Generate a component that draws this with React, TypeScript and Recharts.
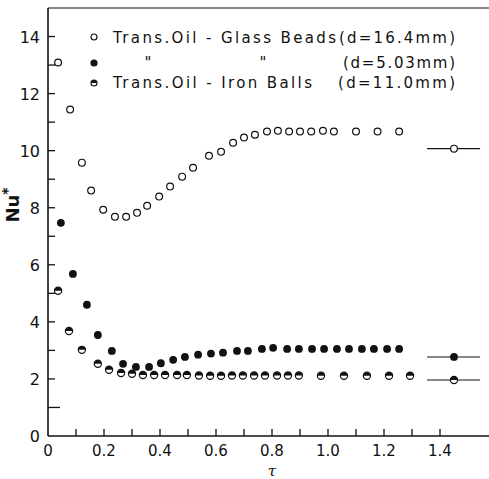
import React from 'react';
import { ScatterChart, Scatter, XAxis, YAxis, ReferenceLine, Customized } from 'recharts';

const glassX = [0.036, 0.079, 0.121, 0.154, 0.197, 0.239, 0.279, 0.318, 0.354, 0.397, 0.436, 0.479, 0.518, 0.575, 0.618, 0.661, 0.700, 0.739, 0.782, 0.821, 0.861, 0.900, 0.940, 0.982, 1.021, 1.100, 1.177, 1.254];
const glassY = [13.09, 11.44, 9.58, 8.60, 7.93, 7.68, 7.68, 7.82, 8.07, 8.39, 8.74, 9.09, 9.40, 9.82, 9.96, 10.28, 10.46, 10.56, 10.67, 10.70, 10.67, 10.67, 10.67, 10.70, 10.67, 10.67, 10.67, 10.67];

const beadX = [0.046, 0.089, 0.139, 0.178, 0.228, 0.268, 0.314, 0.361, 0.403, 0.447, 0.489, 0.536, 0.582, 0.625, 0.675, 0.714, 0.764, 0.804, 0.854, 0.896, 0.943, 0.986, 1.032, 1.075, 1.121, 1.164, 1.211, 1.254];
const beadY = [7.47, 5.68, 4.60, 3.54, 2.98, 2.53, 2.42, 2.42, 2.55, 2.67, 2.77, 2.85, 2.89, 2.92, 2.98, 2.98, 3.05, 3.09, 3.05, 3.05, 3.05, 3.05, 3.05, 3.05, 3.05, 3.05, 3.05, 3.05];

const ironX = [0.036, 0.075, 0.121, 0.178, 0.218, 0.261, 0.300, 0.339, 0.379, 0.418, 0.461, 0.496, 0.539, 0.579, 0.618, 0.657, 0.696, 0.736, 0.775, 0.818, 0.857, 0.896, 0.975, 1.057, 1.139, 1.218, 1.293];
const ironY = [5.09, 3.68, 3.02, 2.53, 2.32, 2.21, 2.18, 2.14, 2.14, 2.14, 2.14, 2.14, 2.12, 2.11, 2.11, 2.12, 2.12, 2.12, 2.12, 2.12, 2.12, 2.12, 2.11, 2.11, 2.11, 2.11, 2.11];

// asymptotic (steady) values shown at the right
const asymX = 1.45;
const asymSpan = [1.354, 1.543];
const asymGlass = 10.07;
const asymBead = 2.77;
const asymIron = 1.96;

const xTicks = [0, 1, 2, 3, 4, 5, 6, 7, 8, 9, 10, 11, 12, 13, 14].map((i) => i / 10);
const xLabels = ['0', '0.2', '0.4', '0.6', '0.8', '1.0', '1.2', '1.4'];
const yTicks = [0, 1, 2, 3, 4, 5, 6, 7, 8, 9, 10, 11, 12, 13, 14];

const zip = (xs: number[], ys: number[]) => xs.map((x, i) => ({ x, y: ys[i] }));
const glassData = zip(glassX, glassY);
const beadData = zip(beadX, beadY);
const ironData = zip(ironX, ironY);

const FONT = '"DejaVu Sans", sans-serif';
const INK = '#111';

const OpenMark = (p: any) => (
  <circle cx={p.cx} cy={p.cy} r={3.4} fill="#fff" stroke={INK} strokeWidth={1.2} />
);
const FilledMark = (p: any) => <circle cx={p.cx} cy={p.cy} r={3.9} fill={INK} />;
const HalfMark = (p: any) => {
  const r = 3.6;
  const { cx, cy } = p;
  return (
    <g>
      <circle cx={cx} cy={cy} r={r} fill="#fff" stroke={INK} strokeWidth={1.2} />
      <path d={`M ${cx - r} ${cy} A ${r} ${r} 0 0 1 ${cx + r} ${cy} Z`} fill={INK} />
    </g>
  );
};

const XTick = (p: any) => {
  const v = p.payload.value;
  const i = Math.round(v * 10);
  return (
    <g>
      {i > 0 && <line x1={p.x} x2={p.x} y1={p.y} y2={p.y - 7} stroke={INK} strokeWidth={1.3} />}
      {i % 2 === 0 && (
        <text x={p.x} y={p.y + 20} textAnchor="middle" fontFamily={FONT} fontSize={15} fill={INK}>
          {xLabels[i / 2]}
        </text>
      )}
    </g>
  );
};

const YTick = (p: any) => {
  const v = p.payload.value;
  return (
    <g>
      {v > 0 && <line x1={p.x} x2={p.x + (v === 1 ? 12 : 7)} y1={p.y} y2={p.y} stroke={INK} strokeWidth={1.3} />}
      {v % 2 === 0 && (
        <text x={p.x - 8} y={p.y + 6} textAnchor="end" fontFamily={FONT} fontSize={16} fill={INK}>
          {v}
        </text>
      )}
    </g>
  );
};

const Legend = () => (
  <g fontFamily={FONT} fontSize={15} fill={INK}>
    <circle cx={94} cy={37} r={3} fill="#fff" stroke={INK} strokeWidth={1.1} />
    <text x={113} y={43} textLength={223} lengthAdjust="spacing">Trans.Oil - Glass Beads</text>
    <text x={339} y={43} textLength={116} lengthAdjust="spacing">(d=16.4mm)</text>
    <circle cx={94} cy={63} r={3.6} fill={INK} />
    <text x={148} y={68} textAnchor="middle">"</text>
    <text x={263} y={68} textAnchor="middle">"</text>
    <text x={343} y={68} textLength={112} lengthAdjust="spacing">(d=5.03mm)</text>
    <circle cx={94} cy={83} r={3} fill="#fff" stroke={INK} strokeWidth={1.1} />
    <path d="M 91 83 A 3 3 0 0 1 97 83 Z" fill={INK} />
    <text x={113} y={88} textLength={199} lengthAdjust="spacing">Trans.Oil - Iron Balls</text>
    <text x={338} y={88} textLength={117} lengthAdjust="spacing">(d=11.0mm)</text>
    <text x={19} y={205} transform="rotate(-90 19 205)" textAnchor="middle" fontSize={18} fontWeight="bold">
      Nu<tspan dy={-7} fontSize={14}>*</tspan>
    </text>
    <text x={272} y={475.5} textAnchor="middle" fontFamily='"DejaVu Serif", serif' fontStyle="italic" fontSize={15}>τ</text>
  </g>
);

export default function App() {
  return (
    <div style={{ position: 'absolute', left: 0, top: 0, background: '#fff' }}>
      <ScatterChart width={489} height={479} margin={{ top: 8, right: 0, bottom: 13, left: 8 }}>
        <XAxis
          type="number"
          dataKey="x"
          domain={[0, 1.575]}
          ticks={xTicks}
          interval={0}
          tickSize={0}
          tickMargin={0}
          tickLine={false}
          height={30}
          axisLine={{ stroke: INK, strokeWidth: 1.6 }}
          tick={<XTick />}
        />
        <YAxis
          type="number"
          dataKey="y"
          domain={[0, 15]}
          ticks={yTicks}
          interval={0}
          tickSize={0}
          tickMargin={0}
          tickLine={false}
          width={40}
          axisLine={{ stroke: INK, strokeWidth: 1.6 }}
          tick={<YTick />}
        />
        <ReferenceLine y={15} stroke={INK} strokeWidth={1.2} />
        <ReferenceLine segment={[{ x: asymSpan[0], y: asymGlass }, { x: asymSpan[1], y: asymGlass }]} stroke={INK} strokeWidth={1.1} />
        <ReferenceLine segment={[{ x: asymSpan[0], y: asymBead }, { x: asymSpan[1], y: asymBead }]} stroke={INK} strokeWidth={1.1} />
        <ReferenceLine segment={[{ x: asymSpan[0], y: asymIron }, { x: asymSpan[1], y: asymIron }]} stroke={INK} strokeWidth={1.1} />
        <Scatter data={glassData} shape={<OpenMark />} isAnimationActive={false} />
        <Scatter data={beadData} shape={<FilledMark />} isAnimationActive={false} />
        <Scatter data={ironData} shape={<HalfMark />} isAnimationActive={false} />
        <Scatter data={[{ x: asymX, y: asymGlass }]} shape={<OpenMark />} isAnimationActive={false} />
        <Scatter data={[{ x: asymX, y: asymBead }]} shape={<FilledMark />} isAnimationActive={false} />
        <Scatter data={[{ x: asymX, y: asymIron }]} shape={<HalfMark />} isAnimationActive={false} />
        <Customized component={<Legend />} />
      </ScatterChart>
    </div>
  );
}
